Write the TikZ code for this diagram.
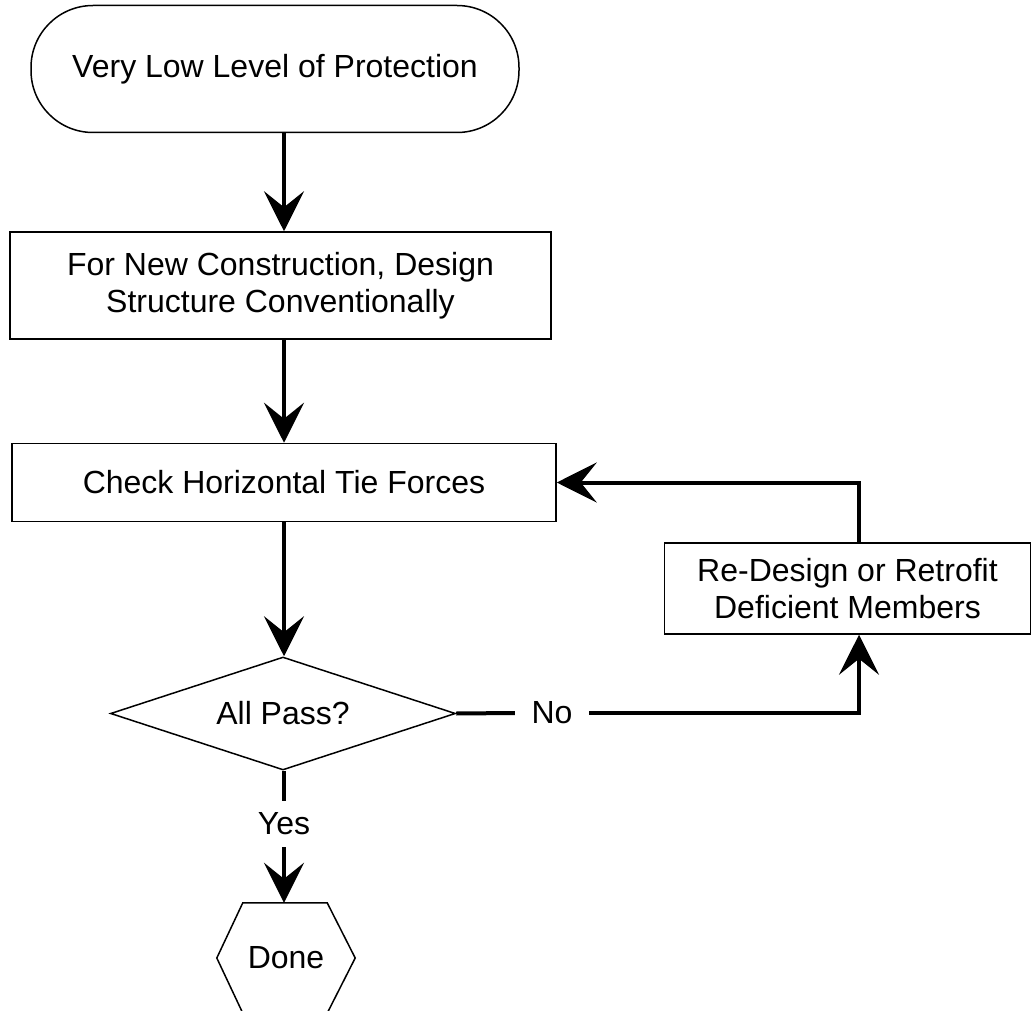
\documentclass[tikz,border=0pt]{standalone}
\usepackage{fontspec}
\setmainfont{Liberation Sans}
\usetikzlibrary{arrows.meta,shapes.geometric,calc}
\begin{document}
\begin{tikzpicture}[x=1pt,y=-1pt,
  every node/.style={font=\fontsize{32}{37}\selectfont, align=center, inner sep=0pt},
  box/.style={draw, line width=1.5pt},
  conn/.style={line width=4pt},
  arr/.style={line width=4pt, -{Stealth[length=40pt,width=40pt,inset=16pt]}},
  lbl/.style={minimum height=46pt}
]
\useasboundingbox (0,0) rectangle (1031,1011);
\coordinate (spine) at (284,0);
\coordinate (rcol) at (859,0);

\node[box, rounded corners=62pt, minimum width=488pt, minimum height=127pt] (start) at (275,69) {Very Low Level of Protection};
\node[box, minimum width=541pt, minimum height=107pt] (design) at (280.5,285.5) {For New Construction, Design\\Structure Conventionally};
\node[box, minimum width=544pt, minimum height=78pt] (check) at (284,482.5) {Check Horizontal Tie Forces};
\node[box, diamond, shape aspect=3, minimum width=345pt, minimum height=113pt] (pass) at (283,713.5) {All Pass?};
\node[box, minimum width=366pt, minimum height=91pt] (redesign) at (847.5,588.5) {Re-Design or Retrofit\\Deficient Members};
\node[minimum width=138pt, minimum height=110pt] (done) at (286,958) {Done};
\draw[line width=1.5pt] ($(done.north west)+(26,0)$) -- ($(done.north east)+(-28,0)$) -- (done.east) -- ($(done.south east)+(-28,0)$) -- ($(done.south west)+(26,0)$) -- (done.west) -- cycle;

\node[lbl, minimum width=74pt] (no) at (552,713) {No};
\node[lbl] (yes) at (284,824) {Yes};

\draw[arr] (start.south -| spine) -- (design.north -| spine);
\draw[arr] (design.south -| spine) -- (check.north -| spine);
\draw[arr] (check.south -| spine) -- (pass.north -| spine);
\draw[conn] (pass.south -| spine) -- (yes.north);
\draw[arr] (yes.south) -- (done.north -| spine);
\draw[conn] (pass.east) -- (no.west);
\draw[arr] (no.east) -| (redesign.south -| rcol);
\draw[arr] (redesign.north -| rcol) |- (check.east);
\end{tikzpicture}
\end{document}
